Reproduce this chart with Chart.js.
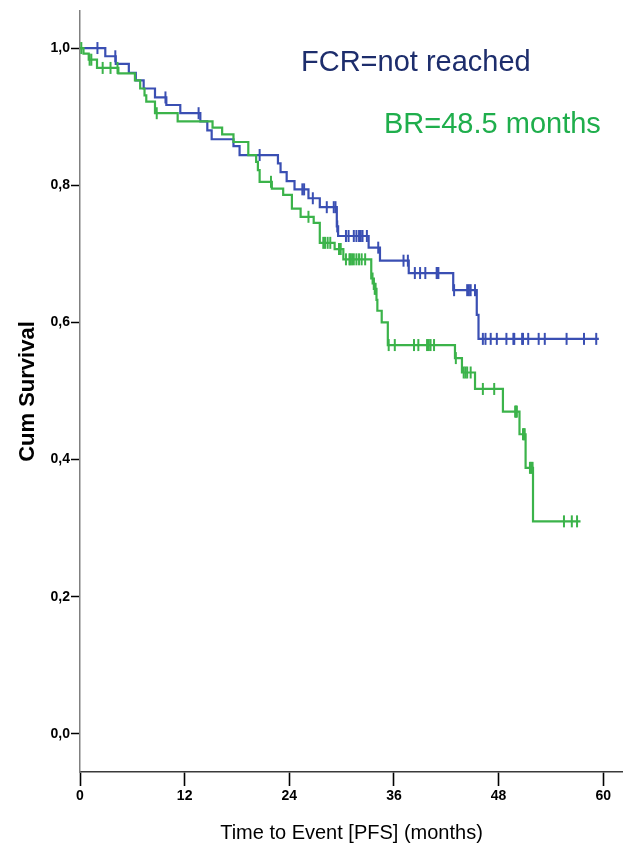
<!DOCTYPE html>
<html>
<head>
<meta charset="utf-8">
<title>PFS Kaplan-Meier</title>
<script src="https://cdn.jsdelivr.net/npm/chart.js@4.4.1/dist/chart.umd.min.js"></script>
<style>
  html, body { margin: 0; padding: 0; background: #ffffff; }
  #wrap { width: 623px; height: 853px; }
</style>
</head>
<body>
<div id="wrap"><canvas id="km" width="623" height="853"></canvas></div>
<script>
// FCR arm: event times (months) and survival after each step
const fcrTimes = [0, 2.9, 4.1, 5.6, 6.4, 7.3, 8.6, 9.9, 11.5, 13.8, 14.6, 15.1, 17.6, 18.3,
  22.7, 23.0, 23.7, 24.6, 26.2, 27.5, 29.45, 29.6, 33.1, 34.4, 37.7, 42.8, 45.5, 45.7, 59.5];
const fcrSurvival = [1.0, 0.988, 0.977, 0.964, 0.953, 0.941, 0.928, 0.917, 0.905, 0.893, 0.880, 0.867, 0.857, 0.844,
  0.832, 0.819, 0.806, 0.794, 0.781, 0.768, 0.740, 0.726, 0.709, 0.690, 0.672, 0.647, 0.611, 0.576, 0.576];
// FCR arm: censored observations (months)
const fcrCensored = [2.0, 4.05, 9.8, 13.6, 20.6, 25.5, 25.7, 26.7, 28.3, 29.1, 29.3, 29.5,
  30.5, 30.8, 31.4, 31.7, 32.0, 32.2, 32.4, 32.9, 34.2, 37.1, 37.6, 38.4, 39.0, 39.6, 40.9, 41.0, 41.1,
  42.9, 44.4, 44.6, 44.8, 45.3, 46.2, 46.5, 47.1, 47.8, 48.9, 49.7, 49.8, 50.7, 50.8, 51.4, 52.6, 53.3,
  55.8, 57.8, 59.2];

// BR arm: event times (months) and survival after each step
const brTimes = [0, 0.4, 1.0, 1.95, 4.4, 6.3, 6.9, 7.4, 7.6, 8.6, 11.2, 15.2, 16.3, 17.6, 19.3, 20.2,
  20.4, 20.6, 22.0, 23.3, 24.3, 25.3, 26.8, 27.5, 29.2, 30.2, 33.4, 33.7, 34.0, 34.1, 34.6, 35.3,
  43.0, 43.8, 45.3, 48.5, 50.4, 51.1, 51.95, 57.4];
const brSurvival = [1.0, 0.992, 0.983, 0.971, 0.963, 0.953, 0.941, 0.931, 0.922, 0.905, 0.893, 0.884, 0.874, 0.863, 0.844, 0.834,
  0.822, 0.805, 0.795, 0.786, 0.766, 0.754, 0.745, 0.716, 0.707, 0.692, 0.664, 0.649, 0.633, 0.617, 0.600, 0.567,
  0.548, 0.527, 0.503, 0.470, 0.437, 0.388, 0.310, 0.310];
// BR arm: censored observations (months)
const brCensored = [0.15, 1.1, 1.3, 2.6, 3.5, 4.3, 8.8, 21.9, 26.2, 27.9, 28.1, 28.4, 28.7, 29.7, 29.9,
  30.5, 30.9, 31.0, 31.2, 31.4, 31.7, 32.0, 32.3, 32.7, 33.55, 33.8, 33.9, 35.4, 36.1, 38.3, 38.8,
  39.8, 40.0, 40.2, 40.6, 43.1, 44.0, 44.2, 44.4, 44.8, 46.2, 47.5, 49.9, 50.0, 50.1, 50.8, 50.9, 51.0,
  51.6, 51.75, 51.9, 55.5, 56.4, 57.0];

// Axis ticks and labels
const xTickValues = [0, 12, 24, 36, 48, 60];
const xTickLabels = ['0', '12', '24', '36', '48', '60'];
const yTickValues = [0, 0.2, 0.4, 0.6, 0.8, 1.0];
const yTickLabels = ['0,0', '0,2', '0,4', '0,6', '0,8', '1,0'];
const xTitle = 'Time to Event [PFS] (months)';
const yTitle = 'Cum Survival';
const medianTexts = ['FCR=not reached', 'BR=48.5 months'];

const FCR_COLOR = '#3a4fb3';
const BR_COLOR = '#3bb34a';
const FONT = '"Liberation Sans", Arial, Helvetica, sans-serif';

// Survival level of a step curve at time t
function survivalAt(times, surv, t) {
  let s = surv[0];
  for (let i = 0; i < times.length; i++) {
    if (times[i] <= t) s = surv[i]; else break;
  }
  return s;
}
const toPoints = (times, surv) => times.map((t, i) => ({ x: t, y: surv[i] }));
const censorPoints = (cens, times, surv) => cens.map(t => ({ x: t, y: survivalAt(times, surv, t) }));

const stepStyle = color => ({
  borderColor: color, backgroundColor: color, borderWidth: 2.2,
  pointRadius: 0, stepped: 'before', fill: false
});
const censorStyle = color => ({
  showLine: false, pointStyle: 'line', pointRotation: 90, pointRadius: 6,
  pointBorderWidth: 2, pointBorderColor: color, pointBackgroundColor: color, borderColor: color
});

// Median PFS annotations
const medianLabels = {
  id: 'medianLabels',
  afterDatasetsDraw(chart) {
    const ctx = chart.ctx;
    ctx.save();
    ctx.font = '29px ' + FONT;
    ctx.textAlign = 'left';
    ctx.textBaseline = 'alphabetic';
    ctx.fillStyle = '#1d2d6c';
    ctx.fillText(medianTexts[0], 301, 71);
    ctx.fillStyle = '#1fae4c';
    ctx.fillText(medianTexts[1], 384, 133);
    ctx.restore();
  }
};

new Chart(document.getElementById('km'), {
  type: 'line',
  data: {
    datasets: [
      Object.assign({ label: 'BR', data: toPoints(brTimes, brSurvival) }, stepStyle(BR_COLOR)),
      Object.assign({ label: 'BR censored', data: censorPoints(brCensored, brTimes, brSurvival) }, censorStyle(BR_COLOR)),
      Object.assign({ label: 'FCR', data: toPoints(fcrTimes, fcrSurvival) }, stepStyle(FCR_COLOR)),
      Object.assign({ label: 'FCR censored', data: censorPoints(fcrCensored, fcrTimes, fcrSurvival) }, censorStyle(FCR_COLOR))
    ]
  },
  options: {
    responsive: false,
    animation: false,
    devicePixelRatio: 1,
    layout: { autoPadding: false, padding: { top: 11, right: 0, bottom: 0, left: 0 } },
    plugins: { legend: { display: false }, tooltip: { enabled: false } },
    scales: {
      x: {
        type: 'linear', min: 0, max: 62.27,
        afterBuildTicks: s => { s.ticks = xTickValues.map(v => ({ value: v })); },
        afterFit: s => { s.height = 81; s.paddingLeft = 0; s.paddingRight = 0; },
        ticks: {
          includeBounds: false, autoSkip: false, maxRotation: 0, padding: 2, color: '#000',
          font: { family: FONT, size: 14, weight: 'bold' },
          callback: (v, i) => xTickLabels[i]
        },
        grid: { drawOnChartArea: false, drawTicks: true, tickLength: 14, tickColor: '#000', tickWidth: 1.6 },
        border: { display: true, color: '#3a3a3a', width: 1.5 },
        title: { display: true, text: xTitle, color: '#000', font: { family: FONT, size: 20 }, padding: { top: 0, bottom: 8 } }
      },
      y: {
        type: 'linear', min: -0.0554, max: 1.054,
        afterBuildTicks: s => { s.ticks = yTickValues.map(v => ({ value: v })); },
        afterFit: s => { s.width = 80; s.paddingTop = 0; s.paddingBottom = 0; },
        ticks: {
          includeBounds: false, padding: 1, color: '#000',
          font: { family: FONT, size: 14, weight: 'bold' },
          callback: (v, i) => yTickLabels[i]
        },
        grid: { drawOnChartArea: false, drawTicks: true, tickLength: 9, tickColor: '#000', tickWidth: 1.5 },
        border: { display: true, color: '#808080', width: 1.5 },
        title: { display: true, text: yTitle, color: '#000', font: { family: FONT, size: 22, weight: 'bold' }, padding: { top: 15, bottom: 0 } }
      }
    }
  },
  plugins: [medianLabels]
});
</script>
</body>
</html>
